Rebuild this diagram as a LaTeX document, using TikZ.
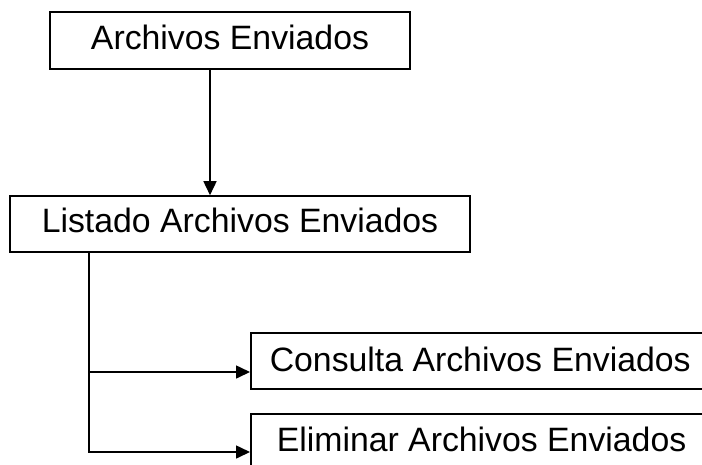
\documentclass[tikz,border=0pt]{standalone}
\usepackage{fontspec}
\setmainfont{Liberation Sans}
\usetikzlibrary{arrows.meta}
\tikzset{
  box/.style={draw=black, line width=1.6pt, rectangle, inner ysep=0pt,
    font=\fontsize{33.8}{40}\selectfont, text height=24pt},
  arr/.style={line width=1.6pt, -{Triangle[length=14pt,width=13pt]}},
}
\begin{document}
\begin{tikzpicture}[x=1pt,y=-1pt]
\clip (0,0) rectangle (702,464);
\fill[white] (0,0) rectangle (702,464);
\node[box, minimum width=360pt, minimum height=57pt, text depth=7pt] (top) at (230,40.5) {Archivos Enviados};
\node[box, minimum width=460pt, minimum height=56pt, text depth=7pt] (list) at (240,224) {Listado Archivos Enviados};
\node[box, anchor=north west, minimum height=56pt, text depth=2pt, inner xsep=19pt] (cons) at (250,332) {\makebox[432pt][l]{Consulta Archivos Enviados}};
\node[box, anchor=north west, minimum height=56pt, text depth=5pt, inner xsep=26pt] (elim) at (250,413) {\makebox[420pt][l]{Eliminar Archivos Enviados}};
\draw[arr] ([xshift=-20pt]top.south) -- ([xshift=-30pt]list.north);
\draw[arr] ([xshift=80pt]list.south west) |- ([yshift=-40pt]cons.north west);
\draw[arr] ([xshift=80pt]list.south west) |- ([yshift=-39pt]elim.north west);
\end{tikzpicture}
\end{document}
